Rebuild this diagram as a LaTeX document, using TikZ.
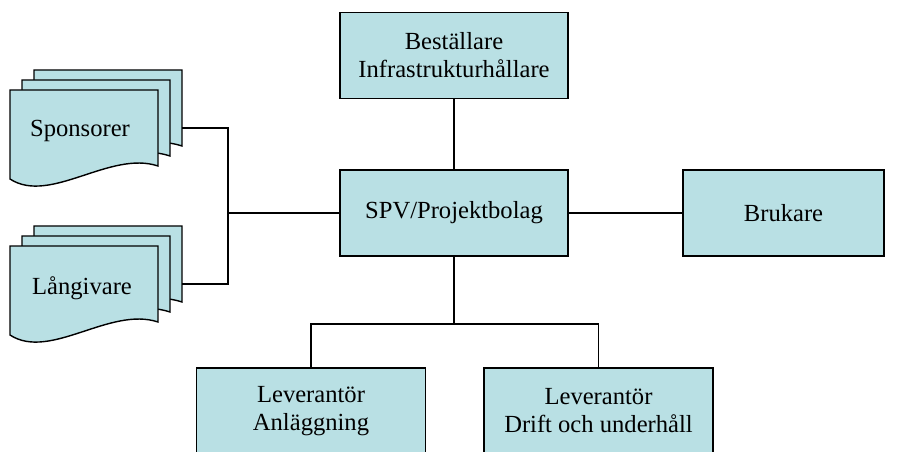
\documentclass[tikz,border=0pt]{standalone}
\usepackage{fontspec}
\setmainfont{Liberation Serif}
\usepackage{tikz}
\usetikzlibrary{positioning, calc}
\definecolor{boxteal}{HTML}{B9E0E4}

\tikzset{
  docstack/.pic={
    \foreach \dx/\dy in {24/-20, 12/-10}
      \draw[docline] (\dx,\dy) -- ++(148,0) -- ++(0,76)
        .. controls ++(-48,-16) and ++(40,12) .. ++(-148,13) -- cycle;
    \draw[docline] (0,0) -- (148,0) -- (148,76)
      .. controls (100,60) and (40,115) .. (0,89) -- cycle;
    \coordinate (-e) at (172,38);
  },
}

\begin{document}
\begin{tikzpicture}[x=0.02cm, y=-0.02cm,
    box/.style={draw, fill=boxteal, line width=0.8pt, align=center,
                minimum width=4.56cm, minimum height=1.72cm, inner sep=2pt,
                font=\fontsize{14}{16}\selectfont},
    docline/.style={draw, fill=boxteal, line width=0.8pt},
    doclabel/.style={font=\fontsize{14}{16}\selectfont, inner sep=0pt},
    wire/.style={draw, line width=0.8pt},
]
\useasboundingbox (0,0) rectangle (901,452);

% Stacks on the left
\pic (spons) at (10,90) {docstack};
\node[doclabel] (sponslbl) at (80,131) {Sponsorer};
\pic (lang) at (10,246) {docstack};
\node[doclabel] (langlbl) at (82,288) {Långivare};

% Boxes
\node[box] (best) at (454,55.5) {Beställare\\Infrastrukturhållare};
\node[box] (spv) at (454,213) {SPV/Projektbolag};
\node[box, minimum width=4.02cm] (bruk) at (783.5,213) {Brukare};
\node[box, minimum width=4.58cm] (leva) at (311,411) {Leverantör\\Anläggning};
\node[box, minimum width=4.58cm] (levd) at (598.5,411) {Leverantör\\Drift och underhåll};

% Lines
\coordinate (join) at (228,213);
\coordinate (fork) at (454,324);
\draw[wire] (best) -- (spv);
\draw[wire] (spv) -- (bruk);
\draw[wire] (spv) -- (join);
\draw[wire] (spons-e) -| (join) |- (lang-e);
\draw[wire] (spv) -- (fork);
\draw[wire] (leva.north) |- (fork) -| (levd.north);
\end{tikzpicture}
\end{document}
